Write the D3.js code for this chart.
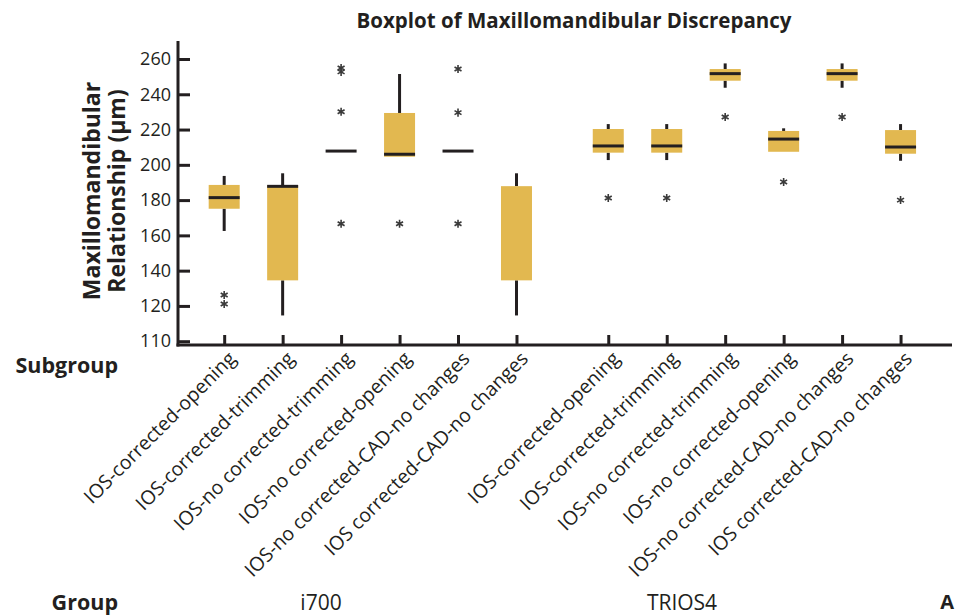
<!DOCTYPE html>
<html>
<head>
<meta charset="utf-8">
<script src="https://cdn.jsdelivr.net/npm/d3@7.9.0/dist/d3.min.js"></script>
<style>
  body { margin: 0; background: #fff; }
  svg { font-family: "Open Sans", "Noto Sans", sans-serif; }
</style>
</head>
<body>
<svg id="chart" width="960" height="616"></svg>
<script>
// data
const groups = ['i700', 'TRIOS4'];
const subgroups = [
  'IOS-corrected-opening',
  'IOS-corrected-trimming',
  'IOS-no corrected-trimming',
  'IOS-no corrected-opening',
  'IOS-no corrected-CAD-no changes',
  'IOS corrected-CAD-no changes'
];
// one entry per box: i700 x6 then TRIOS4 x6
const whiskerHigh = [193.7, 195.2, null, 251.5, null, 195.2, 223.1, 223.1, 257.5, 220.7, 257.5, 223.1];
const q3 =          [188.6, 188.4, 207.8, 229.4, 207.8, 187.9, 220.3, 220.3, 254.3, 219.2, 254.3, 219.7];
const medians =     [181.4, 187.8, 207.8, 206.0, 207.8, null,  210.7, 210.7, 251.7, 214.6, 251.7, 210.1];
const q1 =          [175.1, 134.5, 207.8, 204.6, 207.8, 134.5, 206.9, 206.9, 247.7, 207.4, 247.7, 206.3];
const whiskerLow =  [162.5, 114.6, null,  null,  null,  114.6, 202.7, 202.7, 243.7, null,  243.7, 202.3];
const outliers = [
  [126.2, 121.1], [], [254.9, 252.7, 230.1, 166.6], [166.6], [254.3, 229.6, 166.6], [],
  [181.2], [181.2], [227.1], [190.3], [227.1], [180.0]
];
// axis ticks (bottom tick is drawn at the break and labelled 110)
const yTickValues = [100, 120, 140, 160, 180, 200, 220, 240, 260];
const yTickLabels = ['110', '120', '140', '160', '180', '200', '220', '240', '260'];

const svg = d3.select('#chart');
const ink = '#231f20';
const boxFill = '#e2b850';
const groupGap = 0.57;

// slot position of each box along x
const slots = [];
groups.forEach((g, gi) => {
  subgroups.forEach((s, si) => {
    slots.push({ group: g, sub: s, pos: gi * (subgroups.length + groupGap) + si });
  });
});

const x = d3.scaleLinear().domain([-0.79, 12.45]).range([178, 952]);
const y = d3.scaleLinear().domain([100, 260]).range([341.2, 59]);
const boxW = 31;

// title
svg.append('text')
  .attr('x', 574).attr('y', 28)
  .attr('text-anchor', 'middle')
  .attr('font-weight', 'bold')
  .attr('font-size', 20.5)
  .attr('fill', ink)
  .text('Boxplot of Maxillomandibular Discrepancy');

// y axis title
const yTitle = svg.append('text')
  .attr('transform', 'translate(100,191) rotate(-90)')
  .attr('text-anchor', 'middle')
  .attr('font-weight', 'bold')
  .attr('font-size', 23)
  .attr('fill', ink);
yTitle.append('tspan').attr('x', 0).attr('dy', 0).text('Maxillomandibular');
yTitle.append('tspan').attr('x', 0).attr('dy', 24.5).text('Relationship (µm)');

// y axis
const yAxis = svg.append('g')
  .attr('transform', 'translate(178,0)')
  .call(d3.axisLeft(y)
    .tickValues(yTickValues)
    .tickFormat((d, i) => yTickLabels[i])
    .tickSize(-12)
    .tickSizeOuter(0)
    .tickPadding(7));
yAxis.select('.domain').remove();
yAxis.selectAll('line').attr('stroke', ink).attr('stroke-width', 3);
yAxis.selectAll('text')
  .attr('font-size', 18)
  .attr('fill', ink)
  .attr('font-family', '"Open Sans", sans-serif');

svg.append('line')
  .attr('x1', 178).attr('x2', 178).attr('y1', 41).attr('y2', 346.5)
  .attr('stroke', ink).attr('stroke-width', 3);

// x axis
svg.append('line')
  .attr('x1', 176.5).attr('x2', 952).attr('y1', 345).attr('y2', 345)
  .attr('stroke', ink).attr('stroke-width', 3);

const xAxis = svg.append('g')
  .attr('transform', 'translate(0,345)')
  .call(d3.axisBottom(x)
    .tickValues(slots.map(d => d.pos))
    .tickFormat('')
    .tickSize(-10)
    .tickSizeOuter(0));
xAxis.select('.domain').remove();
xAxis.selectAll('line').attr('stroke', ink).attr('stroke-width', 3);

// rotated subgroup labels
svg.append('g')
  .selectAll('text')
  .data(slots)
  .join('text')
  .attr('transform', d => `translate(${x(d.pos) + 8},355) rotate(-45)`)
  .attr('text-anchor', 'end')
  .attr('dy', '0.35em')
  .attr('font-size', 19.5)
  .attr('fill', ink)
  .text(d => d.sub);

// row labels
svg.append('text').attr('x', 118).attr('y', 373).attr('text-anchor', 'end')
  .attr('font-weight', 'bold').attr('font-size', 21.5).attr('fill', ink).text('Subgroup');
svg.append('text').attr('x', 118).attr('y', 610).attr('text-anchor', 'end')
  .attr('font-weight', 'bold').attr('font-size', 21.5).attr('fill', ink).text('Group');

const groupLabelX = [321, 682];
groups.forEach((g, i) => {
  svg.append('text').attr('x', groupLabelX[i]).attr('y', 610).attr('text-anchor', 'middle')
    .attr('font-size', 21).attr('fill', ink).text(g);
});
svg.append('text').attr('x', 954).attr('y', 609).attr('text-anchor', 'end')
  .attr('font-weight', 'bold').attr('font-size', 20).attr('fill', ink).text('A');

// boxes
const boxes = svg.append('g');
slots.forEach((s, i) => {
  const cx = x(s.pos);
  const g = boxes.append('g');
  if (whiskerHigh[i] != null) {
    g.append('line').attr('x1', cx).attr('x2', cx)
      .attr('y1', y(whiskerHigh[i])).attr('y2', y(q3[i]))
      .attr('stroke', ink).attr('stroke-width', 3);
  }
  if (whiskerLow[i] != null) {
    g.append('line').attr('x1', cx).attr('x2', cx)
      .attr('y1', y(q1[i])).attr('y2', y(whiskerLow[i]))
      .attr('stroke', ink).attr('stroke-width', 3);
  }
  g.append('rect')
    .attr('x', cx - boxW / 2).attr('width', boxW)
    .attr('y', y(q3[i])).attr('height', y(q1[i]) - y(q3[i]))
    .attr('fill', boxFill);
  if (medians[i] != null) {
    g.append('line').attr('x1', cx - boxW / 2).attr('x2', cx + boxW / 2)
      .attr('y1', y(medians[i])).attr('y2', y(medians[i]))
      .attr('stroke', ink).attr('stroke-width', 3);
  }
  g.selectAll('path.out')
    .data(outliers[i])
    .join('path')
    .attr('class', 'out')
    .attr('transform', v => `translate(${cx},${y(v)})`)
    .attr('d', d3.symbol(d3.symbolAsterisk, 45))
    .attr('fill', 'none')
    .attr('stroke', '#3a3a3a')
    .attr('stroke-width', 1.6);
});
</script>
</body>
</html>
